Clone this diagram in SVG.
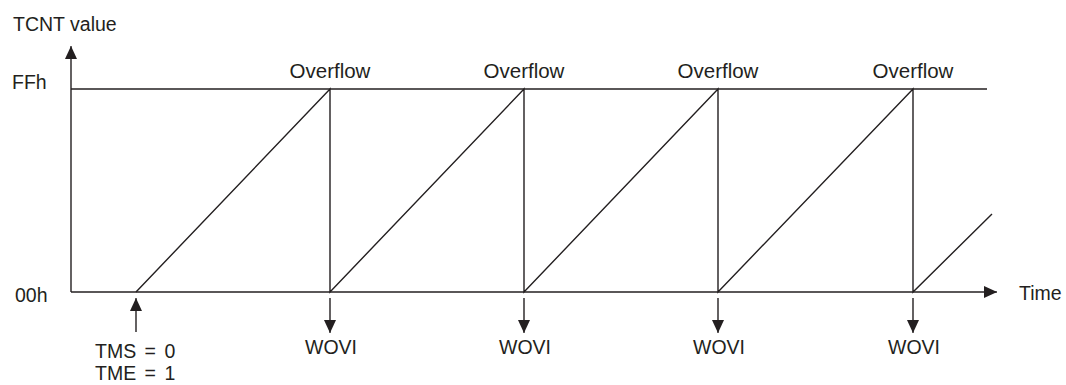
<svg xmlns="http://www.w3.org/2000/svg" width="1066" height="385" viewBox="0 0 1066 385">
<style>
text{font-family:"Liberation Sans",Arial,sans-serif;font-size:19.5px;fill:#231f20}
.ln{stroke:#231f20;stroke-width:1.4;fill:none}
.c{text-anchor:middle}
.ov{font-size:20.5px}
.eq{word-spacing:3px}
</style>
<defs>
<marker id="ah" markerWidth="12" markerHeight="13" refX="13" refY="6" orient="auto" markerUnits="userSpaceOnUse">
<path d="M0,0 L13,6 L0,12 Z" fill="#231f20"/>
</marker>
</defs>
<rect width="1066" height="385" fill="#fff"/>
<g id="axes">
<line class="ln" x1="71" y1="292" x2="71" y2="46" marker-end="url(#ah)"/>
<line class="ln" x1="71" y1="292" x2="997" y2="292" marker-end="url(#ah)"/>
<line class="ln" x1="71" y1="89" x2="987" y2="89"/>
<text x="13" y="31">TCNT value</text>
<text x="12" y="89">FFh</text>
<text x="15" y="302">00h</text>
<text x="1019" y="300">Time</text>
</g>
<g id="waveform">
<polyline class="ln" points="136,292 330,89 330,292 524,89 524,292 718,89 718,292 913,89 913,292 992,214"/>
</g>
<g id="labels">
<text class="c ov" x="330" y="78">Overflow</text>
<text class="c ov" x="524" y="78">Overflow</text>
<text class="c ov" x="718" y="78">Overflow</text>
<text class="c ov" x="913" y="78">Overflow</text>
</g>
<g id="connectors">
<line class="ln" x1="136" y1="332" x2="136" y2="298" marker-end="url(#ah)"/>
<line class="ln" x1="330" y1="298" x2="330" y2="333" marker-end="url(#ah)"/>
<line class="ln" x1="524" y1="298" x2="524" y2="333" marker-end="url(#ah)"/>
<line class="ln" x1="718" y1="298" x2="718" y2="333" marker-end="url(#ah)"/>
<line class="ln" x1="913" y1="298" x2="913" y2="333" marker-end="url(#ah)"/>
</g>
<g id="events">
<text class="c" x="331" y="354">WOVI</text>
<text class="c" x="525" y="354">WOVI</text>
<text class="c" x="719" y="354">WOVI</text>
<text class="c" x="914" y="354">WOVI</text>
<text class="eq" x="95" y="358">TMS = 0</text>
<text class="eq" x="95" y="380">TME = 1</text>
</g>
</svg>
